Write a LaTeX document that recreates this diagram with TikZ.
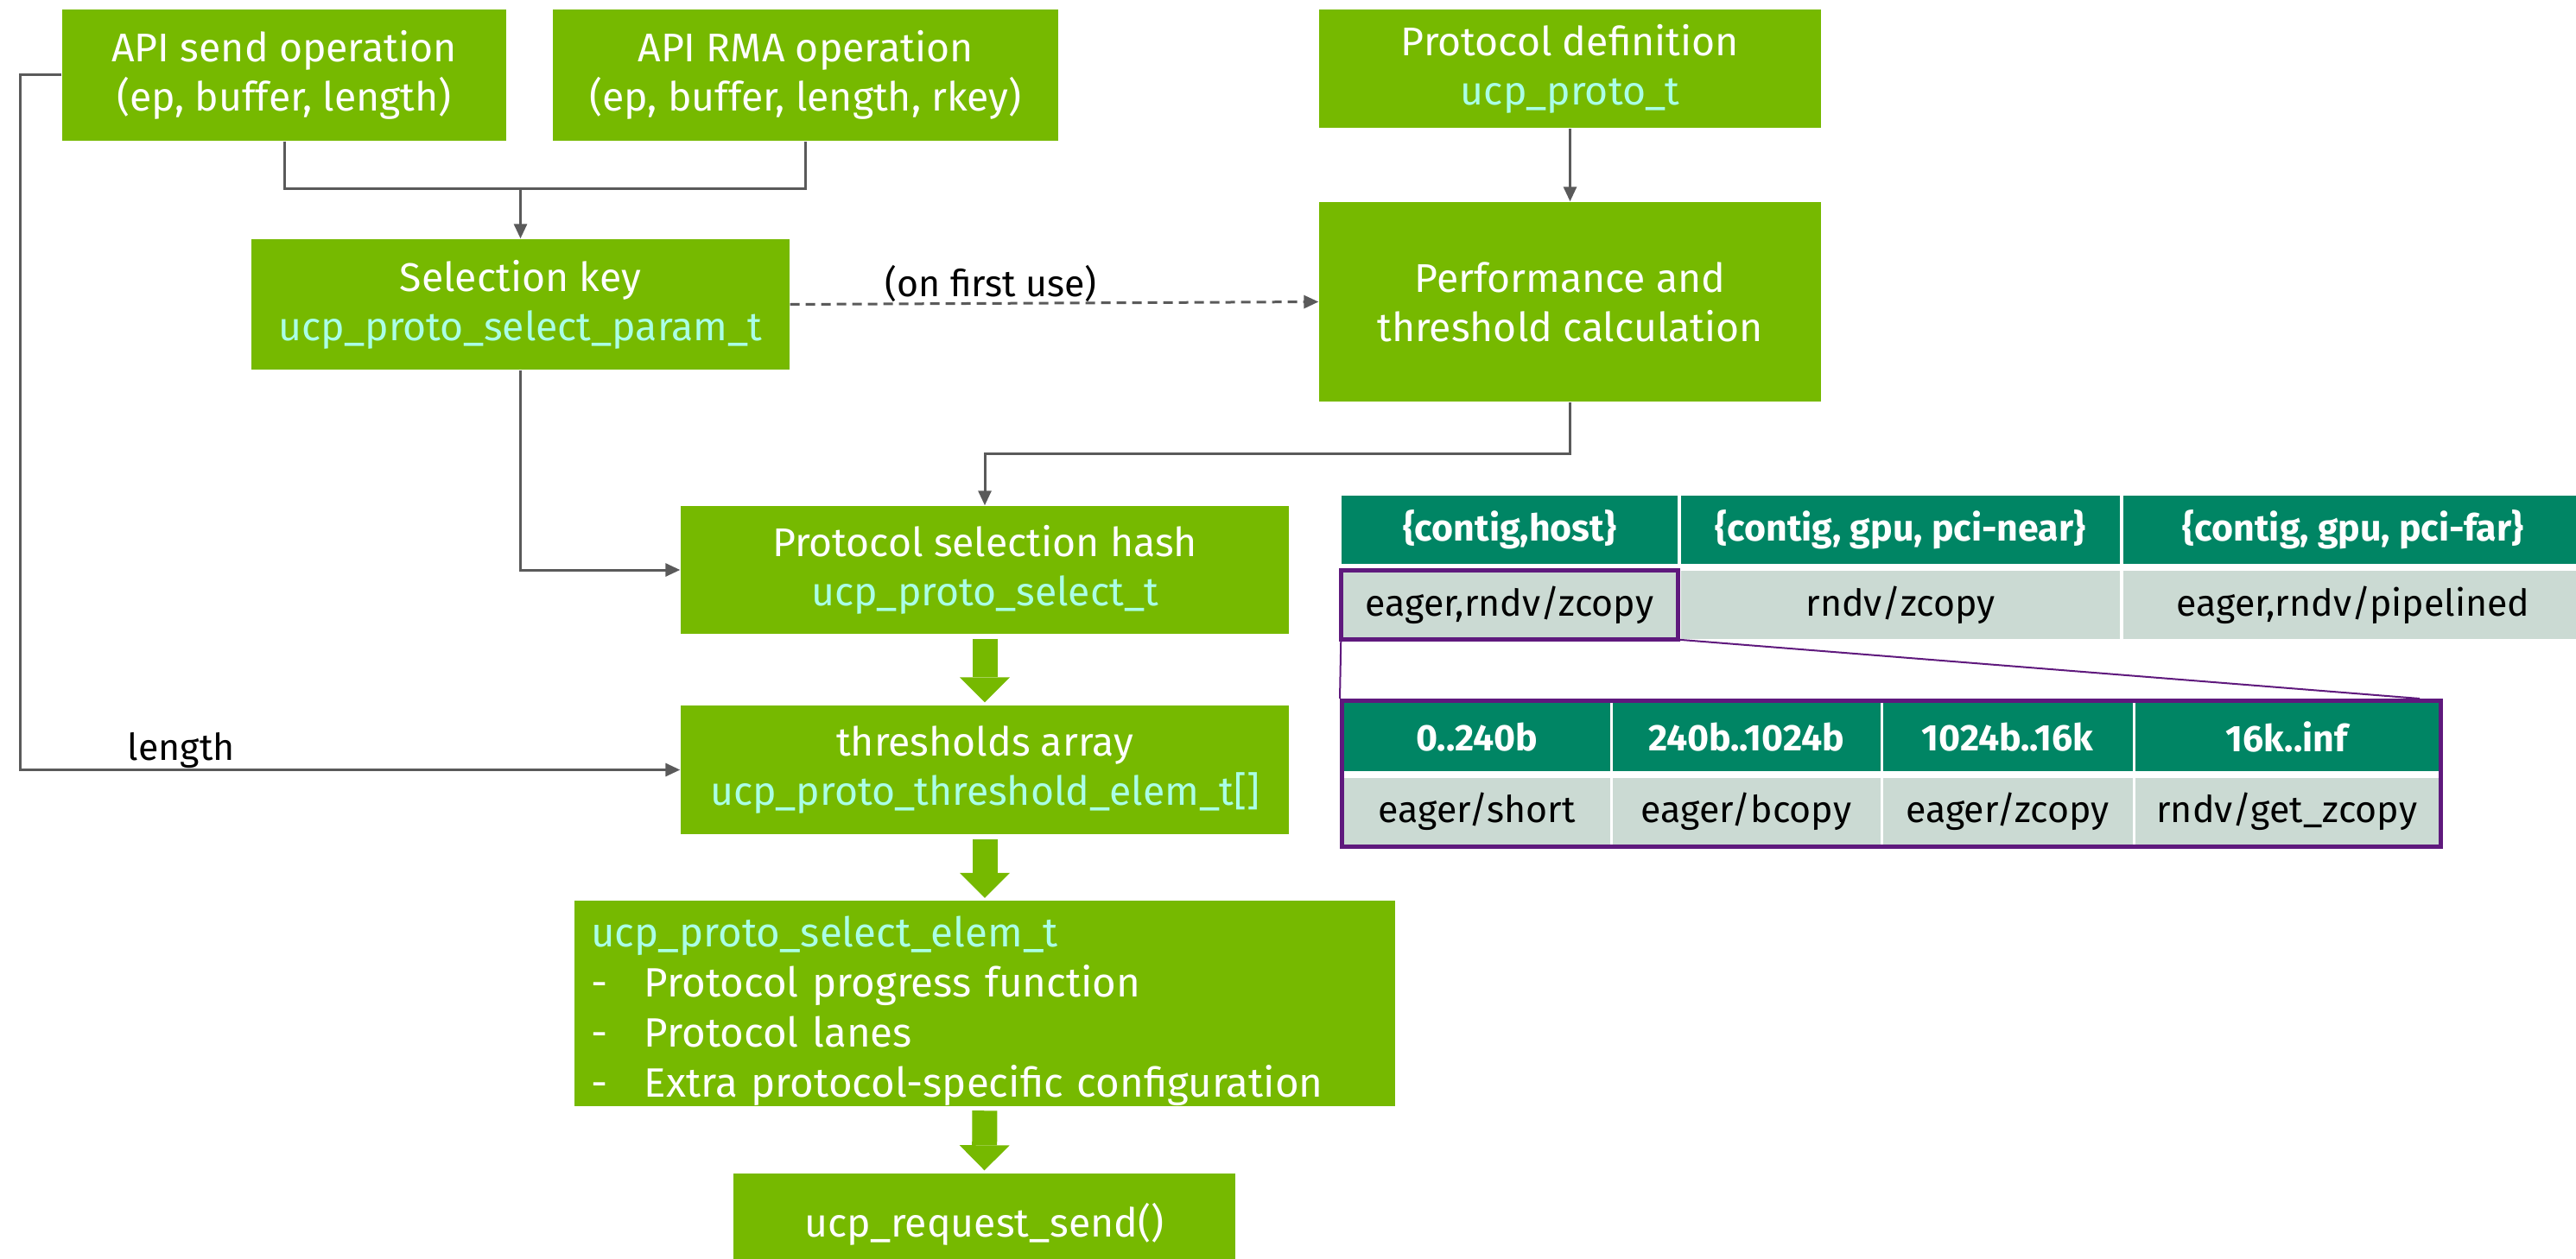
\documentclass[tikz,border=0pt]{standalone}
\usepackage{fontspec}
\setmainfont{Fira Sans}
\usetikzlibrary{arrows.meta}

\definecolor{nvgreen}{RGB}{118,185,0}
\definecolor{typecyan}{RGB}{170,255,230}
\definecolor{hdrteal}{RGB}{0,133,100}
\definecolor{rowgray}{RGB}{203,218,211}
\definecolor{zoompurple}{RGB}{95,25,125}
\definecolor{wiregray}{RGB}{90,90,90}

\newcommand{\tname}[1]{\textcolor{typecyan}{#1}}
\newcommand{\bul}{\makebox[0.62cm][l]{-}}

\begin{document}
\begin{tikzpicture}[
    box/.style={rectangle, fill=nvgreen, text=white, align=center, inner sep=0pt,
      font=\fontsize{13.2}{16.2}\selectfont},
    wire/.style={draw=wiregray, line width=0.03cm},
    feed/.style={wire, -{Triangle[width=0.15cm,length=0.17cm]}},
    flow/.style={draw=nvgreen, line width=0.29cm,
      -{Triangle[width=0.58cm,length=0.29cm,line width=0pt]},
      shorten <=0.05cm, shorten >=0.03cm},
    hcell/.style={rectangle, fill=hdrteal, text=white, inner sep=0pt,
      minimum height=0.79cm, font=\fontsize{12.2}{14}\selectfont\bfseries},
    rcell/.style={rectangle, fill=rowgray, text=black, inner sep=0pt,
      minimum height=0.79cm, font=\fontsize{12.2}{14}\selectfont},
    hilite/.style={draw=zoompurple, line width=0.05cm},
    zoomline/.style={draw=zoompurple, line width=0.02cm},
    lbl/.style={text=black, inner sep=0pt, font=\fontsize{12.2}{14}\selectfont},
  ]
  \useasboundingbox (0,0) rectangle (29.82,-14.58);

  % Entry points
  \node[box, minimum width=5.14cm, minimum height=1.52cm] (send) at (3.29,-0.87)
    {API send operation\\(ep, buffer, length)};
  \node[box, minimum width=5.85cm, minimum height=1.52cm] (rma) at (9.325,-0.87)
    {API RMA operation\\(ep, buffer, length, rkey)};
  \node[box, minimum width=5.81cm, minimum height=1.37cm] (protodef) at (18.175,-0.795)
    {Protocol definition\\\tname{ucp\_proto\_t}};

  % Key and performance estimation
  \node[box, minimum width=6.23cm, minimum height=1.51cm] (selkey) at (6.025,-3.525)
    {Selection key\\\tname{ucp\_proto\_select\_param\_t}};
  \node[box, minimum width=5.81cm, minimum height=2.31cm] (perf) at (18.175,-3.495)
    {Performance and\\threshold calculation};

  % Lookup chain
  \node[box, minimum width=7.04cm, minimum height=1.48cm] (hash) at (11.40,-6.60)
    {Protocol selection hash\\\tname{ucp\_proto\_select\_t}};
  \node[box, minimum width=7.04cm, minimum height=1.49cm] (thresh) at (11.40,-8.915)
    {thresholds array\\\tname{ucp\_proto\_threshold\_elem\_t[]}};
  \node[box, minimum width=9.50cm, minimum height=2.26cm, text width=9.12cm, align=left,
    font=\fontsize{13.5}{16.5}\selectfont] (selem) at (11.40,-11.62)
    {\rule{0pt}{0.53cm}\tname{ucp\_proto\_select\_elem\_t}\\
     \bul Protocol progress function\\
     \bul Protocol lanes\\
     \bul Extra protocol-specific configuration};
  \node[box, minimum width=5.81cm, minimum height=1.17cm] (reqsend) at (11.395,-14.175)
    {ucp\_request\_send()};

  % Thin connectors
  \path (selkey.north) ++(0,0.58) coordinate (join);
  \draw[wire] (send.south) |- (join) -| (rma.south);
  \draw[feed] (join) -- (selkey.north);
  \draw[feed] (protodef.south) -- (perf.north);
  \draw[feed, dash pattern=on 0.11cm off 0.07cm] (selkey.east) -- (perf.west)
    node[lbl, pos=0.38, above] {(on first use)};
  \draw[feed] (perf.south) -- ++(0,-0.6) -| (hash.north);
  \draw[feed] (selkey.south) |- (hash.west);
  \draw[feed] (send.west) -- ++(-0.48,0) |- (thresh.west)
    node[lbl, pos=0.622, above] {length};

  % Block arrows
  \draw[flow] (hash.south) -- (thresh.north);
  \draw[flow] (thresh.south) -- (selem.north);
  \draw[flow] (selem.south) -- (reqsend.north);

  % Per-key protocol table
  \node[hcell, minimum width=3.89cm] (hA) at (17.475,-6.135) {\{contig,host\}};
  \node[hcell, minimum width=5.08cm] (hB) at (22.00,-6.135) {\{contig, gpu, pci-near\}};
  \node[hcell, minimum width=5.32cm] (hC) at (27.24,-6.135) {\{contig, gpu, pci-far\}};
  \node[rcell, minimum width=3.89cm] (rA) at (17.475,-7.005) {eager,rndv/zcopy};
  \node[rcell, minimum width=5.08cm] (rB) at (22.00,-7.005) {rndv/zcopy};
  \node[rcell, minimum width=5.32cm] (rC) at (27.24,-7.005) {eager,rndv/pipelined};
  \draw[hilite] (rA.north west) rectangle (rA.south east);

  % Thresholds of the highlighted entry
  \node[hcell, minimum width=3.075cm] (tA) at (17.0975,-8.535) {0..240b};
  \node[hcell, minimum width=3.10cm] (tB) at (20.215,-8.535) {240b..1024b};
  \node[hcell, minimum width=2.89cm] (tC) at (23.24,-8.535) {1024b..16k};
  \node[hcell, minimum width=3.515cm] (tD) at (26.4725,-8.535) {16k..inf};
  \node[rcell, minimum height=0.77cm, minimum width=3.075cm] (pA) at (17.0975,-9.395) {eager/short};
  \node[rcell, minimum height=0.77cm, minimum width=3.10cm] (pB) at (20.215,-9.395) {eager/bcopy};
  \node[rcell, minimum height=0.77cm, minimum width=2.89cm] (pC) at (23.24,-9.395) {eager/zcopy};
  \node[rcell, minimum height=0.77cm, minimum width=3.515cm] (pD) at (26.4725,-9.395) {rndv/get\_zcopy};
  \node[hilite, rectangle, inner sep=0pt, minimum width=12.72cm, minimum height=1.69cm]
    (zoombox) at (21.895,-8.96) {};
  \draw[zoomline] (rA.south west) -- (zoombox.north west);
  \draw[zoomline] (rA.south east) -- ([xshift=-0.27cm]zoombox.north east);
\end{tikzpicture}
\end{document}
